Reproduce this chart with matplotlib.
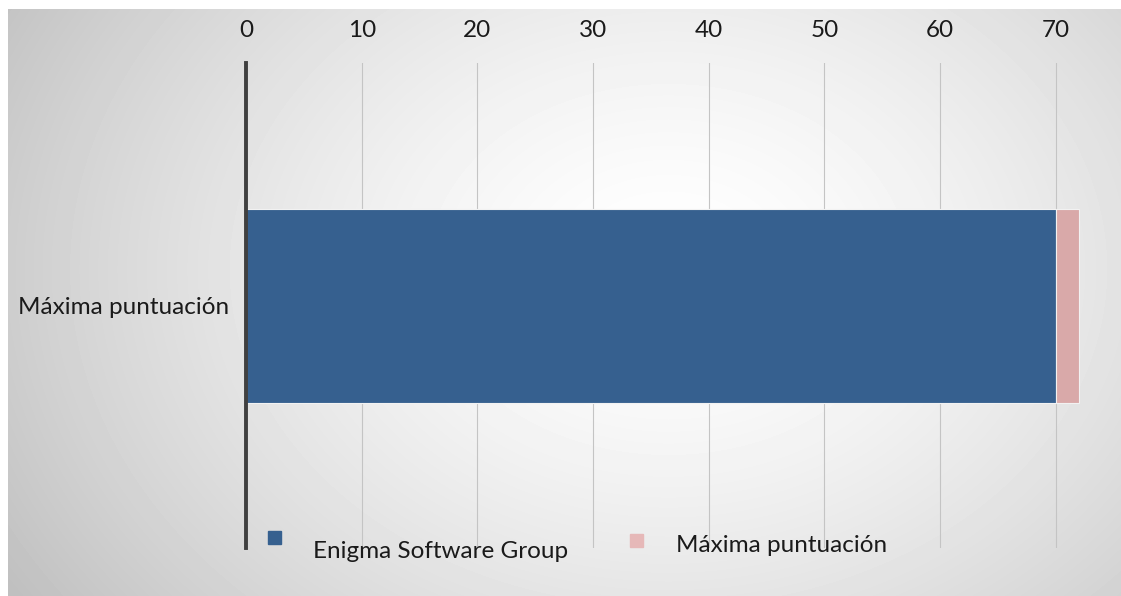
import numpy as np
import matplotlib.pyplot as plt
from matplotlib.patches import Rectangle

categories = ["Máxima puntuación"]
enigma = [70]
maxima = [2]
series_names = ["Enigma Software Group", "Máxima puntuación"]
xticks = [0, 10, 20, 30, 40, 50, 60, 70]

blue = "#36608f"
pink = "#d9a9a9"

plt.rcParams["font.family"] = ["Lato", "DejaVu Sans"]

fig = plt.figure(figsize=(11.21, 5.96), dpi=100)
W, H = 1121, 596

# radial grey background (starts a few px in from the top/left)
bg = fig.add_axes([8 / W, 0, 1 - 8 / W, 1 - 9 / H])
bg.set_axis_off()
yy, xx = np.mgrid[0:587, 0:1113]
d = np.sqrt(((xx - 660) / 780.0) ** 2 + ((yy - 260) / 600.0) ** 2)
shade = np.clip(1 - 0.25 * d ** 1.5, 0.75, 1)
bg.imshow(shade, cmap="gray", vmin=0, vmax=1, aspect="auto", interpolation="bilinear")

ax = fig.add_axes([246 / W, 1 - 548 / H, 844 / W, 485 / H])
ax.patch.set_alpha(0)

y = np.arange(len(categories))
ax.barh(y, enigma, height=1.0, color=blue, edgecolor="#f2f2f2", linewidth=0.8, zorder=3)
ax.barh(y, maxima, left=enigma, height=1.0, color=pink, edgecolor="#f2f2f2", linewidth=0.8, zorder=3)

ax.set_xlim(0, 844 / 11.57)
ax.set_ylim(-1.25, 1.25)
ax.set_xticks(xticks)
ax.set_yticks(y)
ax.set_yticklabels(categories)
ax.xaxis.tick_top()
ax.tick_params(axis="x", length=0, pad=16, labelsize=17.5, colors="#1a1a1a")
ax.tick_params(axis="y", length=0, pad=12, labelsize=17.5, colors="#1a1a1a")
ax.grid(axis="x", color="#c4c4c4", linewidth=0.8, zorder=0)
for s in ["top", "right", "bottom"]:
    ax.spines[s].set_visible(False)
ax.spines["left"].set_color("#404040")
ax.spines["left"].set_linewidth(2.8)
ax.spines["left"].set_zorder(4)

# legend, placed by hand like the original
fig.patches.append(Rectangle((268 / W, 1 - 544 / H), 13 / W, 13 / H, color=blue, transform=fig.transFigure))
fig.patches.append(Rectangle((630 / W, 1 - 547 / H), 13 / W, 13 / H, color="#e6b8b8", transform=fig.transFigure))
fig.text(313 / W, 1 - 551 / H, series_names[0], fontsize=17.5, va="center", color="#1a1a1a")
fig.text(676 / W, 1 - 546 / H, series_names[1], fontsize=17.5, va="center", color="#1a1a1a")

fig.savefig("out.png", dpi=100)
